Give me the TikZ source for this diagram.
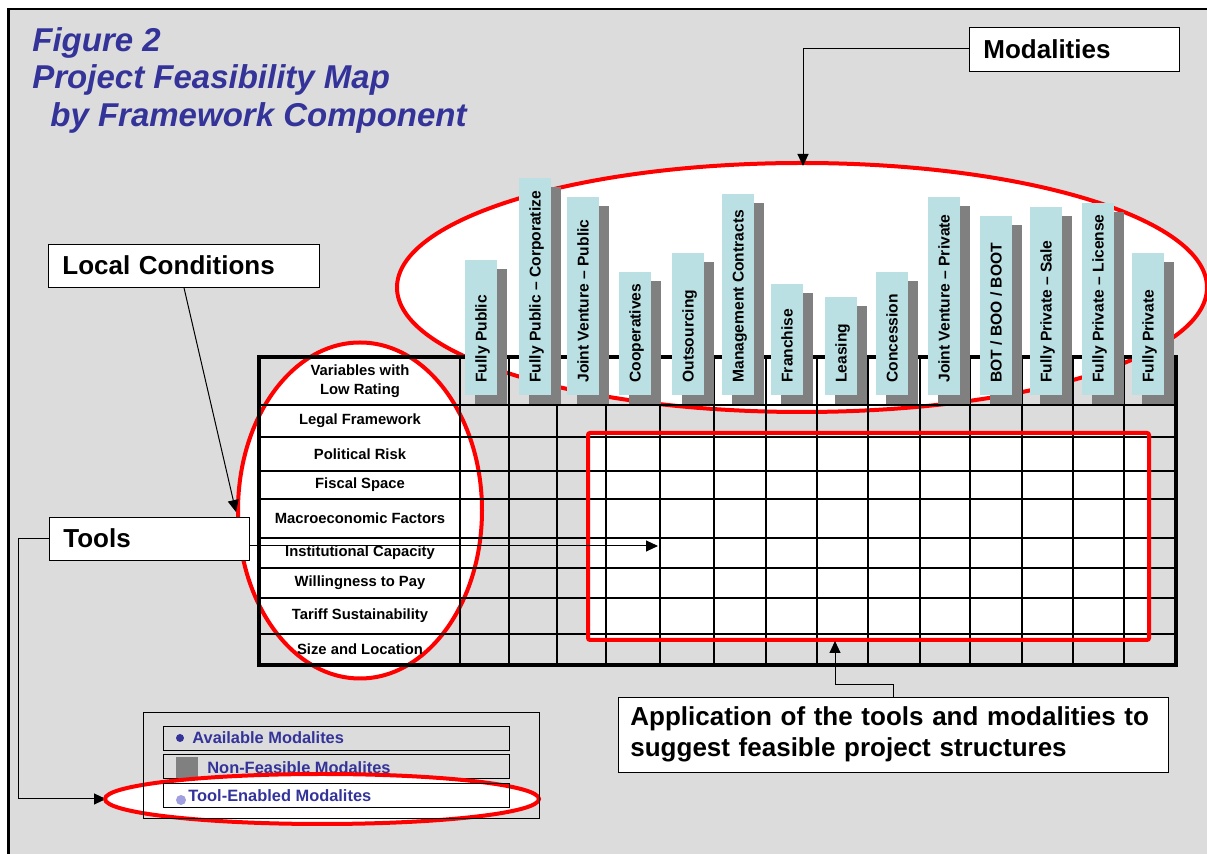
\documentclass[tikz,border=0pt]{standalone}
\usepackage{fontspec}
\setmainfont{Liberation Sans}
\usetikzlibrary{arrows.meta}
\definecolor{bggray}{HTML}{DCDCDC}
\definecolor{titleblue}{HTML}{333399}
\definecolor{barblue}{HTML}{BBE0E3}
\definecolor{shadowgray}{HTML}{808080}
\definecolor{dotlight}{HTML}{A0A0E0}
\begin{document}
\begin{tikzpicture}[x=0.5pt, y=-0.5pt,
  titletext/.style={anchor=base west, inner sep=0pt, text=titleblue, font=\bfseries\itshape\fontsize{16.5}{19}\selectfont},
  labelbox/.style={draw=black, fill=white, anchor=west, align=left, inner xsep=7pt, inner ysep=0pt, font=\bfseries\fontsize{13}{15.5}\selectfont},
  redring/.style={draw=red, line width=2pt, fill=white},
  gridline/.style={line width=0.75pt},
  barlabel/.style={rotate=90, anchor=base west, inner sep=0pt, font=\bfseries\fontsize{7.8}{9}\selectfont},
  rowlabel/.style={align=center, inner sep=0pt, font=\bfseries\fontsize{7.4}{9.5}\selectfont},
  legtext/.style={anchor=west, inner sep=0pt, text=titleblue, font=\bfseries\fontsize{8.2}{10}\selectfont},
  legrow/.style={draw=black, minimum width=173pt, minimum height=12pt, inner sep=0pt},
  arrowline/.style={-{Triangle[length=6pt,width=5.5pt]}, line width=0.5pt}]
\useasboundingbox (0,0) rectangle (1207,854);
\fill[white] (0,0) rectangle (1207,854);
\fill[bggray] (8.5,9) rectangle (1207,854);
\draw[line width=1.25pt] (8.5,854) -- (8.5,9) -- (1207,9);

\node[titletext] (fig) at (32,52) {Figure 2};
\node[titletext] (proj) at (32,89) {Project Feasibility Map};
\node[titletext] (byfw) at (50,127) {by Framework Component};

\draw[redring] (802,287.5) ellipse [x radius=202.5pt, y radius=62.25pt];
\draw[redring] (360,510.5) ellipse [x radius=61pt, y radius=84pt];
\fill[white] (588,433) rectangle (1149,640);

\foreach \x in {460,509,557,606,660,714,766,817,868,920,970,1022,1073,1124}
  \draw[gridline] (\x,357) -- (\x,665);
\foreach \y in {405,437,471,499,538,568,598,634}
  \draw[gridline] (259,\y) -- (1176,\y);
\draw[line width=2pt] (259,357) rectangle (1176,665);
\draw[red, line width=2pt, rounded corners=1pt] (588,433) rectangle (1149,640);

\foreach \xl/\top/\txt [count=\i] in {465/260/{Fully Public}, 519/178/{Fully Public – Corporatize},
    567/197/{Joint Venture – Public}, 619/272/{Cooperatives}, 672/253/{Outsourcing},
    722/194/{Management Contracts}, 771/284/{Franchise}, 825/297/{Leasing},
    876/272/{Concession}, 928/197/{Joint Venture – Private}, 980/216/{BOT / BOO / BOOT},
    1030/207/{Fully Private – Sale}, 1082/203/{Fully Private – License}, 1132/253/{Fully Private}}
{
  \fill[shadowgray] (\xl+10,\top+9) rectangle (\xl+42,404);
  \fill[barblue] (\xl,\top) rectangle (\xl+32,395);
  \node[barlabel] (m\i) at (\xl+21.5,383) {\txt};
}

\node[rowlabel] (r0) at (360,381) {Variables with\\Low Rating};
\foreach \y/\txt [count=\i] in {421/Legal Framework, 454/Political Risk, 485/Fiscal Space,
    518.5/Macroeconomic Factors, 553/Institutional Capacity, 583/Willingness to Pay,
    616/Tariff Sustainability, 649.5/Size and Location}
  \node[rowlabel] (r\i) at (360,\y) {\txt};

\node[labelbox, text width=91pt, minimum height=22pt] (mod) at (969,49) {Modalities};
\node[labelbox, text width=121.5pt, minimum height=21.5pt] (local) at (48,265.5) {Local Conditions};
\node[labelbox, text width=86pt, minimum height=21.5pt] (tools) at (49,538.5) {Tools};
\node[labelbox, text width=263pt, inner xsep=6pt, minimum height=37.5pt] (app) at (618,734.5)
  {Application of the tools and modalities to\\suggest feasible project structures};

\coordinate (modtip) at (803,166);
\coordinate (loctip) at (236,512);
\coordinate (gridtip) at (658,546);
\coordinate (legtip) at (106,799);
\coordinate (celltip) at (835,641);

\draw[arrowline] (mod.west) -| (modtip);
\draw[arrowline] (local.south) -- (loctip);
\draw[arrowline] ([yshift=-3.75pt]tools.east) -- (gridtip);
\draw[arrowline] (tools.west) -- ++(-31,0) |- (legtip);
\draw[arrowline] (app.north) -- ++(0,-12) -| (celltip);

\node[legrow] (avail) at (336,738) {};
\node[circle, fill=titleblue, minimum size=4pt, inner sep=0pt] (availdot) at (180,738) {};
\node[legtext] (availtxt) at (192,738) {Available Modalites};
\node[legrow] (nonfeas) at (336,766) {};
\node[fill=shadowgray, minimum width=11pt, minimum height=10.5pt, inner sep=0pt] (nonfeasbox) at (187,767.5) {};
\node[legtext] (nonfeastxt) at (207,768) {Non-Feasible Modalites};
\draw[redring] (322,799) ellipse [x radius=108.5pt, y radius=12.5pt];
\node[draw=black, minimum width=198pt, minimum height=53pt, inner sep=0pt] (legend) at (341,765) {};
\node[legrow] (toolen) at (336,795) {};
\node[circle, fill=dotlight, minimum size=5pt, inner sep=0pt] (toolendot) at (181,800) {};
\node[legtext] (toolentxt) at (188,796) {Tool-Enabled Modalites};
\end{tikzpicture}
\end{document}
